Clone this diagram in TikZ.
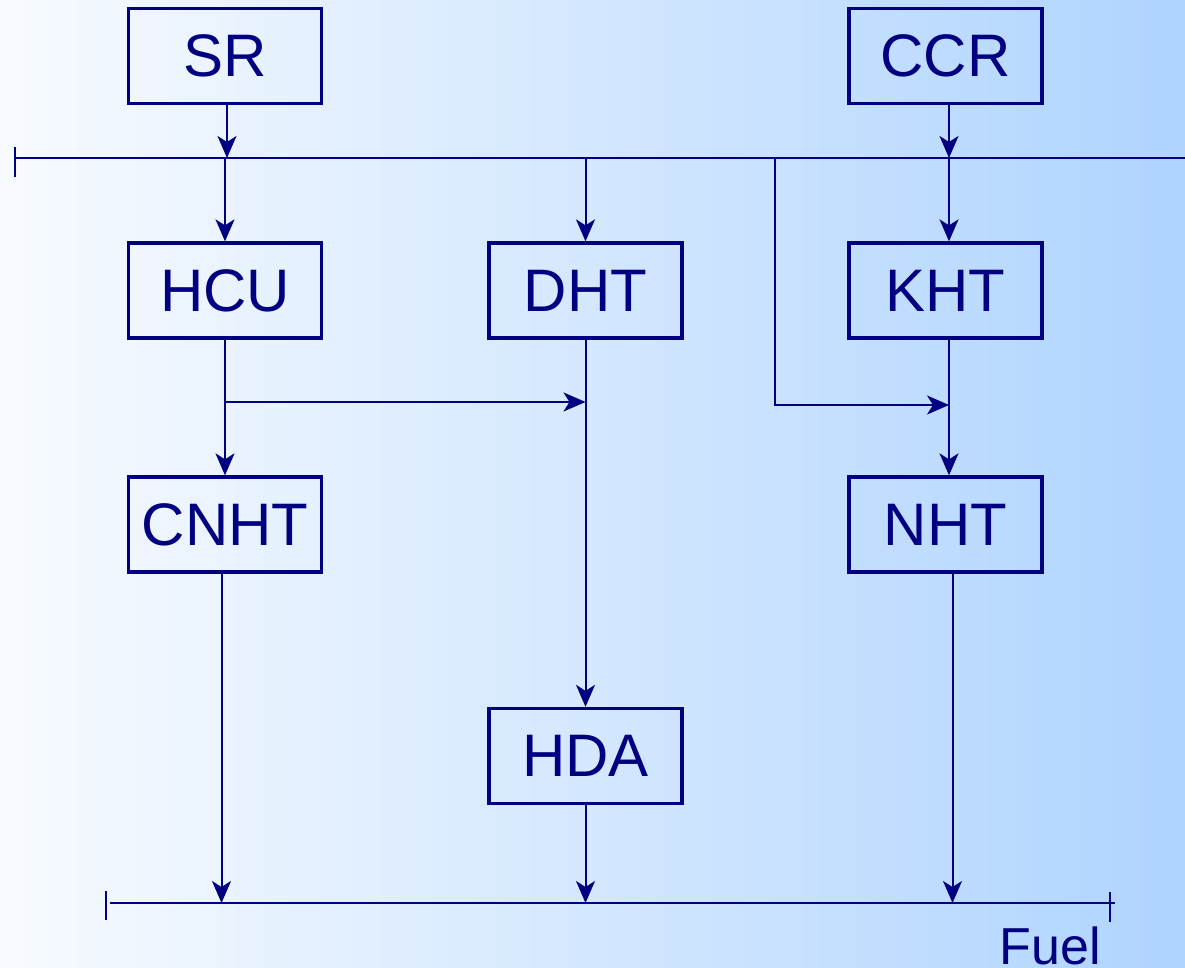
\documentclass[tikz,border=0pt]{standalone}
\usepackage{fontspec}
\setmainfont{Liberation Sans}
\usetikzlibrary{arrows.meta}
\definecolor{navy}{HTML}{000080}
\definecolor{bgleft}{HTML}{F8FBFF}
\definecolor{bgright}{HTML}{AFD4FF}
\begin{document}
\begin{tikzpicture}[x=1pt,y=-1pt,
  unit/.style={draw=navy, line width=3.3pt, text=navy, minimum width=193pt,
    minimum height=95pt, inner sep=0pt, font=\fontsize{60}{72}\selectfont},
  flow/.style={draw=navy, line width=2pt},
  arr/.style={flow, -{Stealth[length=22pt,width=19pt,inset=6pt]}}]
  % background
  \shade[left color=bgleft, right color=bgright] (0,0) rectangle (1185,968);
  \useasboundingbox (0,0) rectangle (1185,968);

  % process units
  \node[unit] (SR)   at (225,56)    {SR};
  \node[unit] (CCR)  at (945.5,56)  {CCR};
  \node[unit] (HCU)  at (225,290.5) {HCU};
  \node[unit] (DHT)  at (585.5,290.5) {DHT};
  \node[unit] (KHT)  at (945.5,290.5) {KHT};
  \node[unit] (CNHT) at (225,524.5) {CNHT};
  \node[unit] (NHT)  at (945.5,524.5) {NHT};
  \node[unit] (HDA)  at (585.5,756) {HDA};

  % feed header
  \coordinate (feedL) at (15,158);
  \coordinate (feedR) at (1185,158);
  \draw[flow] (feedL) -- (feedR);
  \draw[flow] (15,147) -- (15,177);

  % fuel header
  \coordinate (fuelL) at (110,903);
  \coordinate (fuelR) at (1115,903);
  \draw[flow] (fuelL) -- (fuelR);
  \draw[flow] (106,891) -- (106,920);
  \draw[flow] (1110,892) -- (1110,922);
  \node[text=navy, font=\fontsize{52}{62}\selectfont, anchor=base] (fuel) at (1050,964) {Fuel};

  % into the feed header
  \draw[arr] ([xshift=2pt]SR.south) -- ([xshift=2pt]SR.south |- feedL);
  \draw[arr] ([xshift=3.5pt]CCR.south) -- ([xshift=3.5pt]CCR.south |- feedL);

  % from the feed header
  \draw[arr] (HCU.north |- feedL) -- (HCU.north);
  \draw[arr] (DHT.north |- feedL) -- (DHT.north);
  \draw[arr] ([xshift=3.5pt]KHT.north |- feedL) -- ([xshift=3.5pt]KHT.north);
  \coordinate (tap) at (775,158);
  \coordinate (tapKHT) at (775,405);
  \draw[arr] (tap) -- (tapKHT) -- ([xshift=3.5pt]KHT.south |- tapKHT);

  % intermediate links
  \coordinate (hcuSplit) at (225,402);
  \draw[arr] (HCU.south) -- (CNHT.north);
  \draw[arr] (hcuSplit) -- (DHT.south |- hcuSplit);
  \draw[arr] (DHT.south) -- (HDA.north);
  \draw[arr] ([xshift=3.5pt]KHT.south) -- ([xshift=3.5pt]NHT.north);

  % into the fuel header
  \draw[arr] ([xshift=-3.5pt]CNHT.south) -- ([xshift=-3.5pt]CNHT.south |- fuelL);
  \draw[arr] (HDA.south) -- (HDA.south |- fuelL);
  \draw[arr] ([xshift=7pt]NHT.south) -- ([xshift=7pt]NHT.south |- fuelL);
\end{tikzpicture}
\end{document}
